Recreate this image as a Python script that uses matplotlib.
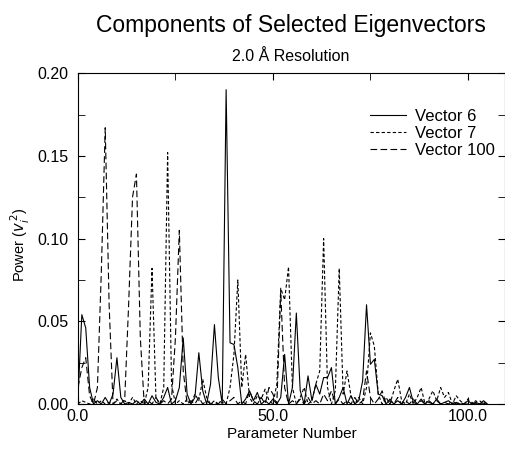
import matplotlib
matplotlib.use("Agg")
import matplotlib.pyplot as plt
from matplotlib.ticker import MultipleLocator, FormatStrFormatter

plt.rcParams['font.family'] = ['Liberation Sans', 'DejaVu Sans']

# parameter numbers 0..105
params = list(range(106))

vector6 = [0.003, 0.054, 0.046, 0.010, 0.000, 0.002, 0.000, 0.004, 0.000, 0.006,
           0.028, 0.004, 0.000, 0.001, 0.000, 0.002, 0.000, 0.003, 0.000, 0.005,
           0.001, 0.000, 0.004, 0.010, 0.000, 0.002, 0.010, 0.040, 0.006, 0.000,
           0.004, 0.031, 0.008, 0.000, 0.012, 0.048, 0.016, 0.000, 0.190, 0.037,
           0.036, 0.022, 0.000, 0.003, 0.008, 0.002, 0.007, 0.000, 0.002, 0.000,
           0.003, 0.000, 0.004, 0.030, 0.000, 0.010, 0.055, 0.008, 0.000, 0.017,
           0.002, 0.012, 0.006, 0.016, 0.016, 0.022, 0.000, 0.004, 0.010, 0.000,
           0.005, 0.000, 0.002, 0.014, 0.060, 0.024, 0.027, 0.006, 0.005, 0.000,
           0.003, 0.000, 0.002, 0.000, 0.004, 0.010, 0.001, 0.000, 0.003, 0.000,
           0.002, 0.000, 0.003, 0.000, 0.001, 0.002, 0.000, 0.001, 0.000, 0.000,
           0.002, 0.000, 0.001, 0.000, 0.002, 0.000]

vector7 = [0.000, 0.002, 0.001, 0.000, 0.003, 0.000, 0.002, 0.000, 0.001, 0.000,
           0.003, 0.000, 0.002, 0.000, 0.004, 0.000, 0.002, 0.000, 0.010, 0.082,
           0.004, 0.000, 0.010, 0.152, 0.012, 0.000, 0.002, 0.000, 0.003, 0.000,
           0.006, 0.002, 0.015, 0.004, 0.000, 0.002, 0.000, 0.001, 0.000, 0.010,
           0.030, 0.075, 0.010, 0.030, 0.004, 0.000, 0.005, 0.003, 0.009, 0.002,
           0.000, 0.012, 0.070, 0.063, 0.083, 0.010, 0.000, 0.004, 0.010, 0.000,
           0.002, 0.012, 0.020, 0.100, 0.010, 0.000, 0.008, 0.082, 0.006, 0.020,
           0.005, 0.000, 0.004, 0.000, 0.010, 0.043, 0.035, 0.006, 0.000, 0.004,
           0.000, 0.008, 0.015, 0.002, 0.000, 0.006, 0.000, 0.004, 0.010, 0.000,
           0.003, 0.008, 0.002, 0.010, 0.004, 0.007, 0.000, 0.005, 0.002, 0.000,
           0.003, 0.000, 0.002, 0.000, 0.001, 0.000]

vector100 = [0.010, 0.022, 0.028, 0.005, 0.000, 0.010, 0.080, 0.167, 0.060, 0.000,
             0.002, 0.000, 0.003, 0.060, 0.125, 0.139, 0.040, 0.000, 0.002, 0.000,
             0.004, 0.000, 0.002, 0.000, 0.003, 0.040, 0.105, 0.020, 0.000, 0.002,
             0.000, 0.004, 0.000, 0.002, 0.000, 0.001, 0.000, 0.003, 0.000, 0.002,
             0.004, 0.000, 0.002, 0.000, 0.008, 0.002, 0.000, 0.004, 0.000, 0.010,
             0.006, 0.000, 0.068, 0.010, 0.000, 0.002, 0.000, 0.003, 0.000, 0.004,
             0.000, 0.002, 0.000, 0.006, 0.002, 0.008, 0.000, 0.003, 0.000, 0.002,
             0.000, 0.004, 0.000, 0.002, 0.020, 0.004, 0.000, 0.003, 0.008, 0.000,
             0.002, 0.000, 0.004, 0.000, 0.002, 0.000, 0.003, 0.000, 0.002, 0.000,
             0.001, 0.000, 0.002, 0.000, 0.001, 0.000, 0.002, 0.000, 0.001, 0.000,
             0.000, 0.001, 0.000, 0.002, 0.000, 0.001]

fig = plt.figure(figsize=(5.06, 4.66), dpi=100)
ax = fig.add_axes([0.154, 0.133, 0.844, 0.71])

ax.plot(params, vector6, color='black', lw=0.8, label='Vector 6')
ax.plot(params, vector7, color='black', lw=0.8, dashes=(3, 2), label='Vector 7')
ax.plot(params, vector100, color='black', lw=0.8, dashes=(6, 3), label='Vector 100')

ax.set_xlim(0, 109.5)
ax.set_ylim(0, 0.20)
ax.xaxis.set_major_locator(MultipleLocator(50))
ax.xaxis.set_minor_locator(MultipleLocator(25))
ax.yaxis.set_major_locator(MultipleLocator(0.05))
ax.yaxis.set_minor_locator(MultipleLocator(0.025))
ax.xaxis.set_major_formatter(FormatStrFormatter('%.1f'))
ax.yaxis.set_major_formatter(FormatStrFormatter('%.2f'))
ax.tick_params(which='both', direction='in', top=True, right=True, labelsize=11.5)
ax.tick_params(which='both', length=5)
ax.tick_params(axis='y', pad=7)

ax.set_xlabel('Parameter Number', fontsize=11, labelpad=2)
ax.set_ylabel(r'Power ($v_i^{\,2}$)', fontsize=10.5)
ax.yaxis.set_label_coords(-0.108, 0.48)

fig.text(0.575, 0.946, 'Components of Selected Eigenvectors', ha='center', va='center', fontsize=16.5)
fig.text(0.575, 0.878, '2.0 Å Resolution', ha='center', va='center', fontsize=11.5)

ax.legend(loc='upper left', bbox_to_anchor=(0.684, 0.893), frameon=False, fontsize=12,
          handlelength=2.15, handletextpad=0.55, labelspacing=0.12,
          borderpad=0, borderaxespad=0)

fig.savefig('out.png', dpi=100)
